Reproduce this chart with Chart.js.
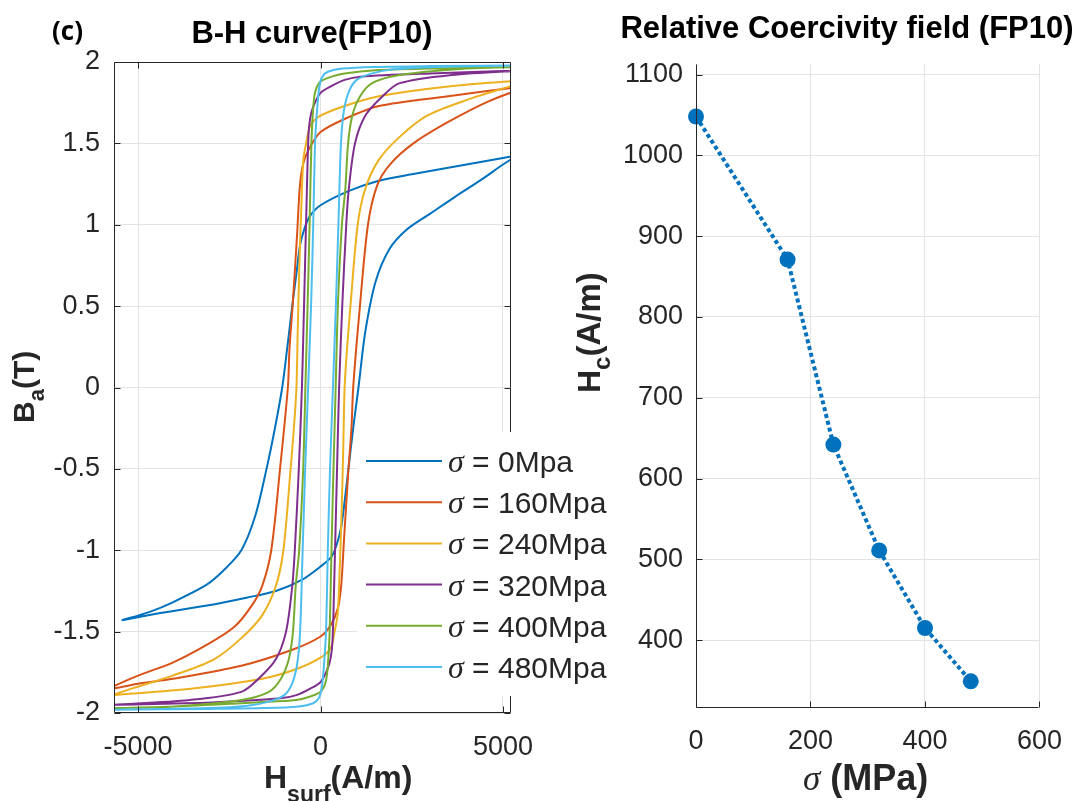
<!DOCTYPE html>
<html>
<head>
<meta charset="utf-8">
<script src="https://cdn.jsdelivr.net/npm/chart.js@4.4.0/dist/chart.umd.min.js"></script>
<style>
    body { margin: 0; background: #fff; width: 1079px; height: 801px; position: relative; overflow: hidden; }
    #bhChart { position: absolute; left: 0; top: 0; }
    #hcChart { position: absolute; left: 540px; top: 0; }
</style>
</head>
<body>
<canvas id="bhChart" width="640" height="801"></canvas>
<canvas id="hcChart" width="539" height="801"></canvas>
<script>
// B-H loops, one per tensile stress (MPa)
const stressLevels = [0, 160, 240, 320, 400, 480];
const loopColors = ['#0072BD', '#D95319', '#EDB120', '#7E2F8E', '#77AC30', '#4DBEEE'];

// [H (A/m), B (T)]: descending branch, then ascending branch
const loop0Down = [[5500,1.43],[4500,1.39],[3500,1.35],[2500,1.31],[1600,1.27],[800,1.21],[0,1.12],[-300,1.05],[-450,0.97],[-565,0.87],[-660,0.7],[-754,0.54],[-914,0.24],[-1050,0],[-1250,-0.25],[-1480,-0.5],[-1790,-0.79],[-2170,-1.0],[-2640,-1.12],[-3110,-1.21],[-4050,-1.32],[-4700,-1.38],[-5450,-1.43]];
const loop0Up = [[-5450,-1.43],[-4500,-1.39],[-3110,-1.34],[-2000,-1.29],[-1225,-1.25],[-500,-1.18],[0,-1.1],[300,-1.04],[450,-0.96],[565,-0.86],[660,-0.7],[754,-0.52],[900,-0.24],[1040,0],[1225,0.34],[1508,0.65],[1885,0.85],[2356,0.97],[3016,1.07],[3676,1.17],[4430,1.28],[5000,1.37],[5500,1.44]];

const loop160Down = [[5700,1.85],[5220,1.84],[3500,1.79],[1600,1.73],[660,1.65],[0,1.57],[-280,1.48],[-470,1.38],[-565,1.24],[-640,0.95],[-754,0.54],[-850,0.24],[-895,0],[-1110,-0.5],[-1350,-1.0],[-1600,-1.22],[-1885,-1.34],[-2360,-1.47],[-3110,-1.58],[-4050,-1.69],[-5000,-1.77],[-5700,-1.84]];
const loop160Up = [[-5700,-1.85],[-5000,-1.82],[-4050,-1.79],[-2170,-1.71],[-754,-1.61],[0,-1.53],[280,-1.46],[470,-1.36],[565,-1.22],[640,-0.95],[754,-0.54],[850,-0.24],[895,0],[1080,0.5],[1300,1.0],[1550,1.24],[1900,1.37],[2545,1.5],[3487,1.63],[4618,1.76],[5700,1.85]];

const loop240Down = [[5700,1.89],[3500,1.85],[1600,1.79],[660,1.73],[0,1.67],[-280,1.61],[-377,1.52],[-470,1.4],[-520,1.15],[-580,0.75],[-625,0.35],[-660,0],[-730,-0.25],[-820,-0.5],[-1018,-1.0],[-1225,-1.22],[-1600,-1.4],[-2170,-1.54],[-2920,-1.67],[-4050,-1.77],[-5180,-1.85],[-5700,-1.89]];
const loop240Up = [[-5700,-1.89],[-3500,-1.85],[-1600,-1.79],[-660,-1.73],[0,-1.66],[280,-1.6],[377,-1.51],[470,-1.39],[520,-1.15],[580,-0.75],[625,-0.35],[660,0],[730,0.25],[820,0.5],[1018,1.0],[1225,1.22],[1600,1.4],[2170,1.54],[2920,1.67],[4050,1.77],[5180,1.85],[5700,1.89]];

const loop320Down = [[5700,1.95],[3000,1.93],[1100,1.91],[660,1.89],[280,1.85],[0,1.81],[-190,1.73],[-280,1.66],[-330,1.55],[-380,1.16],[-425,0.75],[-470,0.34],[-510,0],[-595,-0.5],[-705,-1.0],[-775,-1.22],[-945,-1.5],[-1225,-1.67],[-1700,-1.79],[-2170,-1.87],[-3580,-1.92],[-5700,-1.95]];
const loop320Up = [[-5700,-1.95],[-3000,-1.935],[-1100,-1.91],[-660,-1.89],[-280,-1.85],[0,-1.81],[190,-1.73],[280,-1.66],[330,-1.55],[380,-1.16],[425,-0.75],[470,-0.34],[510,0],[595,0.5],[705,1.0],[775,1.22],[945,1.5],[1225,1.67],[1700,1.79],[2170,1.87],[3580,1.92],[5700,1.95]];

const loop400Down = [[5700,1.97],[3000,1.96],[1500,1.95],[660,1.93],[300,1.91],[0,1.88],[-140,1.82],[-200,1.72],[-250,1.5],[-300,1.0],[-355,0.5],[-415,0],[-475,-0.5],[-585,-1.0],[-680,-1.22],[-755,-1.5],[-870,-1.67],[-1085,-1.79],[-1415,-1.87],[-2170,-1.92],[-4000,-1.96],[-5700,-1.97]];
const loop400Up = [[-5700,-1.97],[-4000,-1.96],[-2170,-1.94],[-1415,-1.93],[-660,-1.92],[-300,-1.9],[0,-1.87],[140,-1.81],[200,-1.71],[250,-1.5],[300,-1.0],[355,-0.5],[415,0],[475,0.5],[585,1.0],[680,1.22],[755,1.5],[870,1.67],[1085,1.79],[1415,1.87],[2170,1.92],[4000,1.96],[5700,1.97]];

const loop480Down = [[5700,1.98],[3000,1.975],[1500,1.97],[600,1.96],[200,1.94],[50,1.91],[-30,1.85],[-90,1.72],[-150,1.5],[-200,1.0],[-260,0.5],[-340,0],[-420,-0.5],[-490,-1.0],[-560,-1.5],[-640,-1.7],[-780,-1.82],[-990,-1.89],[-1414,-1.93],[-2000,-1.955],[-3100,-1.97],[-5700,-1.98]];
const loop480Up = [[-5700,-1.98],[-3100,-1.975],[-1500,-1.97],[-600,-1.96],[-200,-1.94],[-50,-1.91],[30,-1.85],[90,-1.72],[150,-1.5],[200,-1.0],[260,-0.5],[340,0],[420,0.5],[490,1.0],[560,1.5],[640,1.7],[780,1.82],[990,1.89],[1414,1.93],[2000,1.955],[3100,1.97],[5700,1.98]];

const loops = [
    [loop0Down, loop0Up], [loop160Down, loop160Up], [loop240Down, loop240Up],
    [loop320Down, loop320Up], [loop400Down, loop400Up], [loop480Down, loop480Up]
];

// Coercive field vs stress
const sigmaValues = [0, 160, 240, 320, 400, 480];
const hcValues = [1048, 871, 642, 511, 415, 349];

// Tick labels
const hTicks = [-5000, 0, 5000];
const bTicks = [-2, -1.5, -1, -0.5, 0, 0.5, 1, 1.5, 2];
const sigmaTicks = [0, 200, 400, 600];
const hcTicks = [400, 500, 600, 700, 800, 900, 1000, 1100];

const axisColor = '#262626';
const gridColor = '#e3e3e3';
const tickFont = { family: 'Liberation Sans', size: 27 };
const boldFont = '"Liberation Sans"';

// Helper: draw a run of text pieces (for subscripts), optionally rotated
function drawPieces(ctx, x, y, pieces, rotate) {
    ctx.save();
    ctx.translate(x, y);
    if (rotate) ctx.rotate(-Math.PI / 2);
    ctx.textAlign = 'left';
    ctx.textBaseline = 'alphabetic';
    let cx = 0;
    pieces.forEach(p => {
        ctx.font = p.font;
        ctx.fillText(p.text, cx, p.dy || 0);
        cx += ctx.measureText(p.text).width;
    });
    ctx.restore();
}

// Axes frame + inward tick marks (MATLAB look)
const frameTicks = {
    id: 'frameTicks',
    afterDatasetsDraw(chart, args, opts) {
        const { ctx, chartArea: a, scales: { x, y } } = chart;
        const L = Math.round(a.left) + 0.5, R = Math.round(a.right) - 0.5;
        const T = Math.round(a.top) + 0.5, B = Math.round(a.bottom) - 0.5;
        ctx.save();
        ctx.strokeStyle = axisColor;
        ctx.lineWidth = 1;
        ctx.beginPath();
        ctx.moveTo(L, T); ctx.lineTo(L, B); ctx.lineTo(R, B);
        if (opts.box) { ctx.lineTo(R, T); ctx.lineTo(L, T); }
        x.ticks.forEach(t => {
            const px = Math.round(x.getPixelForValue(t.value)) + 0.5;
            ctx.moveTo(px, B); ctx.lineTo(px, B - 6);
            if (opts.box) { ctx.moveTo(px, T); ctx.lineTo(px, T + 6); }
        });
        y.ticks.forEach(t => {
            const py = Math.round(y.getPixelForValue(t.value)) + 0.5;
            ctx.moveTo(L, py); ctx.lineTo(L + 6, py);
            if (opts.box) { ctx.moveTo(R, py); ctx.lineTo(R - 6, py); }
        });
        ctx.stroke();
        ctx.restore();
    }
};

// Titles, axis labels and the in-axes legend of the B-H plot
const bhText = {
    id: 'bhText',
    afterDraw(chart) {
        const ctx = chart.ctx;
        ctx.save();
        ctx.fillStyle = '#000';
        ctx.font = 'bold 26px "Open Sans"';
        ctx.textAlign = 'left';
        ctx.fillText('(c)', 52, 40);
        ctx.font = `bold 31px ${boldFont}`;
        ctx.textAlign = 'center';
        ctx.fillText('B-H curve(FP10)', 312, 43);

        ctx.fillStyle = axisColor;
        drawPieces(ctx, 264, 788, [
            { text: 'H', font: `bold 32px ${boldFont}` },
            { text: 'surf', font: `bold 23px ${boldFont}`, dy: 14 },
            { text: '(A/m)', font: `bold 32px ${boldFont}` }
        ]);
        drawPieces(ctx, 34, 423, [
            { text: 'B', font: `bold 30px ${boldFont}` },
            { text: 'a', font: `bold 22px ${boldFont}`, dy: 10 },
            { text: '(T)', font: `bold 30px ${boldFont}` }
        ], true);

        // legend
        ctx.fillStyle = '#fff';
        ctx.fillRect(357, 432, 270, 264);
        stressLevels.forEach((s, i) => {
            const ly = 461 + i * 41.2;
            ctx.strokeStyle = loopColors[i];
            ctx.lineWidth = 2;
            ctx.beginPath();
            ctx.moveTo(366, ly); ctx.lineTo(442, ly);
            ctx.stroke();
            ctx.fillStyle = axisColor;
            ctx.textAlign = 'left';
            ctx.font = 'italic 32px "Liberation Serif"';
            ctx.fillText('σ', 448, ly + 11);
            const w = ctx.measureText('σ').width;
            ctx.font = '30px "Liberation Sans"';
            ctx.fillText(` = ${s}Mpa`, 448 + w, ly + 11);
        });
        ctx.restore();
    }
};

const hcText = {
    id: 'hcText',
    afterDraw(chart) {
        const ctx = chart.ctx;
        ctx.save();
        ctx.fillStyle = '#000';
        ctx.font = `bold 31px ${boldFont}`;
        ctx.textAlign = 'center';
        ctx.fillText('Relative Coercivity field (FP10)', 307, 38);

        ctx.fillStyle = axisColor;
        drawPieces(ctx, 263, 790, [
            { text: 'σ', font: 'italic 35px "Liberation Serif"' },
            { text: ' (MPa)', font: `bold 36px ${boldFont}` }
        ]);
        drawPieces(ctx, 60, 393, [
            { text: 'H', font: `bold 32px ${boldFont}` },
            { text: 'c', font: `bold 24px ${boldFont}`, dy: 10 },
            { text: '(A/m)', font: `bold 33px ${boldFont}` }
        ], true);
        ctx.restore();
    }
};

function fixedTicks(values) {
    return scale => { scale.ticks = values.map(v => ({ value: v })); };
}

function axisScale(min, max, ticks, fitProp, fitSize, pad) {
    return {
        type: 'linear',
        min: min,
        max: max,
        afterBuildTicks: fixedTicks(ticks),
        afterFit: scale => { scale[fitProp] = fitSize; },
        ticks: {
            font: tickFont,
            color: axisColor,
            padding: pad,
            maxRotation: 0,
            autoSkip: false,
            callback: v => String(v)
        },
        grid: { color: gridColor, drawTicks: false },
        border: { display: false }
    };
}

const bhDatasets = stressLevels.map((s, i) => ({
    label: `σ = ${s}Mpa`,
    data: loops[i][0].concat(loops[i][1]).map(([h, b]) => ({ x: h, y: b })),
    showLine: true,
    borderColor: loopColors[i],
    backgroundColor: loopColors[i],
    borderWidth: 2,
    pointRadius: 0,
    tension: 0.3,
    order: stressLevels.length - i
}));

new Chart(document.getElementById('bhChart'), {
    type: 'scatter',
    data: { datasets: bhDatasets },
    options: {
        responsive: false,
        animation: false,
        events: [],
        layout: { padding: { left: 0, top: 62, right: 129, bottom: 0 } },
        plugins: {
            legend: { display: false },
            tooltip: { enabled: false },
            frameTicks: { box: true }
        },
        scales: {
            x: axisScale(-5660, 5220, hTicks, 'height', 88, 18),
            y: axisScale(-2, 2, bTicks, 'width', 114, 14)
        }
    },
    plugins: [frameTicks, bhText]
});

new Chart(document.getElementById('hcChart'), {
    type: 'scatter',
    data: {
        datasets: [{
            label: 'Hc',
            data: sigmaValues.map((s, i) => ({ x: s, y: hcValues[i] })),
            showLine: true,
            borderColor: '#0072BD',
            backgroundColor: '#0072BD',
            borderWidth: 4,
            borderDash: [4, 3],
            borderCapStyle: 'butt',
            pointRadius: 8,
            pointBorderWidth: 0,
            tension: 0,
            clip: false
        }]
    },
    options: {
        responsive: false,
        animation: false,
        events: [],
        layout: { padding: { left: 0, top: 64, right: 34, bottom: 0 } },
        plugins: {
            legend: { display: false },
            tooltip: { enabled: false },
            frameTicks: { box: false }
        },
        scales: {
            x: axisScale(0, 600, sigmaTicks, 'height', 93, 17),
            y: axisScale(316, 1113, hcTicks, 'width', 156, 13)
        }
    },
    plugins: [frameTicks, hcText]
});
</script>
</body>
</html>
